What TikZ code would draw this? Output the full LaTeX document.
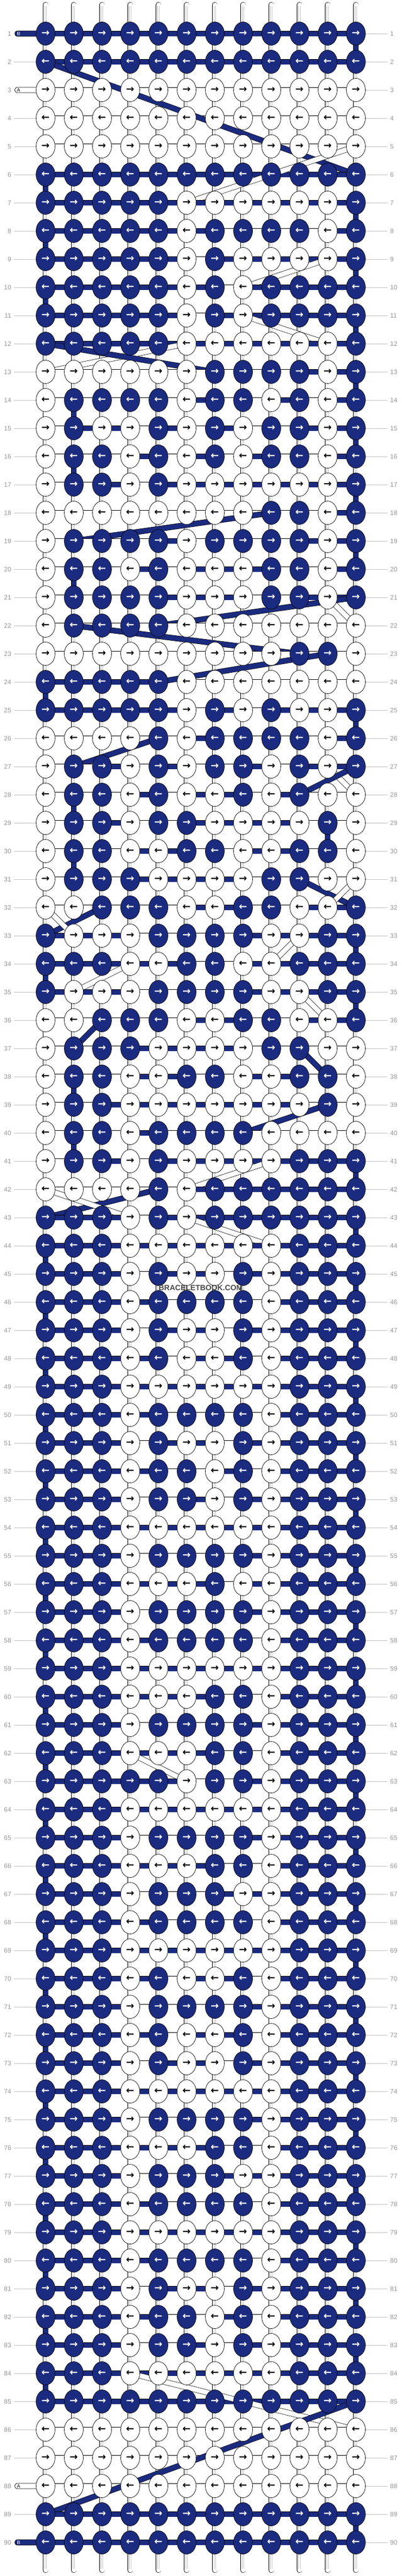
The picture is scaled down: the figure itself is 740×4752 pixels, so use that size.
\documentclass[tikz,border=0pt]{standalone}
\usepackage{fontspec}
\setmainfont{Liberation Sans}
\newfontfamily\arrowfont{DejaVu Sans}
\usepackage{xstring}
\usetikzlibrary{arrows.meta, positioning, shapes.geometric}

\definecolor{navy}{RGB}{27,43,127}
\definecolor{numgrey}{RGB}{150,150,150}
\definecolor{linegrey}{RGB}{192,192,192}

\pgfdeclarelayer{strings}
\pgfdeclarelayer{bands}
\pgfsetlayers{strings,bands,main}

% one entry per row, 1 = thread B (navy), 0 = thread A (white)
\def\knotrows{%
111111111111,111111111111,000000000000,000000000000,000000000000,%
111111111111,111110000001,111110111101,111110100001,111110101111,%
111110101111,111110000001,000000111101,011110110101,010010101101,%
011010101101,011010000001,000000001101,011110111101,011010001101,%
011110001101,011110000000,000000000110,111110000000,111110101001,%
000010111101,011010110101,011010010100,011011000010,011001100110,%
011100001100,001110011001,100011110011,111001100111,100011110011,%
001110011001,011100001100,011001100110,011000000010,011011110000,%
011010000111,000010111111,111010111111,111000000111,111010010111,%
111011110111,111010010111,111010010111,111000000111,111011110111,%
111010010111,111011010111,111011010111,111000000111,111011110111,%
111000100111,111011110111,111011110111,111000000111,111000110111,%
111011110111,111000110111,111110110111,111000000111,111011110111,%
111000110111,111011100111,111011110111,111000000111,111010010111,%
111011110111,111010010111,111010010111,111000000111,111011110111,%
111000110111,111011100111,111011110111,111000000111,111011110111,%
111010010111,111011010111,111011010111,111000000111,111111111111,%
000000000000,000000000000,000000000000,111111111111,111111111111}

\begin{document}
\begin{tikzpicture}[x=1pt, y=-1pt,
    knot/.style = {ellipse, draw, line width=0.7pt, minimum width=35pt,
        minimum height=43pt, inner sep=0pt,
        font=\arrowfont\bfseries\fontsize{18}{18}\selectfont},
    knot b/.style = {knot, fill=navy, text=white},
    knot a/.style = {knot, fill=white, text=black},
    thread b/.style = {draw=black, line width=0.7pt, double=navy, double distance=9pt},
    thread a/.style = {draw=black, line width=0.7pt, double=white, double distance=9pt},
    string/.style = {draw=black, line width=0.7pt, double=white,
        double distance=9pt, line cap=round},
    string core/.style = {draw=black!22, line width=0.6pt, double=white, double distance=2.2pt},
    pill/.style = {draw, line width=0.7pt, rounded corners=4.5pt, minimum height=10pt,
        text width=38pt, inner xsep=4pt, inner ysep=0pt, align=left,
        font=\fontsize{9}{9}\selectfont},
    pill b/.style = {pill, fill=navy, text=white},
    pill a/.style = {pill, fill=white, text=black},
    rownum/.style = {text=numgrey, inner sep=0pt, font=\fontsize{12}{12}\selectfont},
    rowline/.style = {draw=linegrey, line width=0.8pt}
  ]

\useasboundingbox (0,0) rectangle (740,4752);

% Knots
\foreach \pat [count=\r] in \knotrows {
  \pgfmathtruncatemacro{\y}{10+52*\r}
  \ifodd\r\relax \def\arr{→}\else \def\arr{←}\fi
  \foreach \c in {1,...,12} {
    \pgfmathtruncatemacro{\x}{32+52*\c}
    \StrChar{\pat}{\c}[\bit]
    \ifnum\bit=1
      \node[knot b] (k-\r-\c) at (\x,\y) {\arr};
    \else
      \node[knot a] (k-\r-\c) at (\x,\y) {\arr};
    \fi
  }
}

% Base strings
\begin{pgfonlayer}{strings}
  \foreach \c in {1,...,12} {
    \pgfmathtruncatemacro{\x}{32+52*\c}
    \coordinate (top-\c) at (\x,9);
    \coordinate (bot-\c) at (\x,4741);
    \draw[string] (top-\c) -- (bot-\c);
    \draw[string core] ([yshift=-2pt]top-\c) -- ([yshift=2pt]bot-\c);
  }
\end{pgfonlayer}

% Row numbers
\begin{pgfonlayer}{strings}
  \foreach \r in {1,...,90} {
    \pgfmathtruncatemacro{\y}{10+52*\r}
    \node[rownum, anchor=east] (ln-\r) at (21,\y) {\r};
    \node[rownum, anchor=west] (rn-\r) at (719,\y) {\r};
    \draw[rowline] (k-\r-12.east) -- ([xshift=-5pt]rn-\r.west);
    \pgfmathtruncatemacro{\haspill}{(\r==1)||(\r==3)||(\r==88)||(\r==90)}
    \ifnum\haspill=0
      \draw[rowline] ([xshift=5pt]ln-\r.east) -- (k-\r-1.west);
    \fi
  }
\end{pgfonlayer}

% Threads A and B
\begin{pgfonlayer}{bands}
  \node[pill b, anchor=west] (pill-b-in) at (27,62) {B};
  \node[pill a, anchor=west] (pill-a-in) at (27,166) {A};
  \node[pill a, anchor=west] (pill-a-out) at (27,4586) {A};
  \node[pill b, anchor=west] (pill-b-out) at (27,4690) {B};
  \gdef\lastA{pill-a-in.east}
  \gdef\lastB{pill-b-in.east}
  \foreach \pat [count=\r] in \knotrows {
    \foreach \i in {1,...,12} {
      \ifodd\r\relax \edef\c{\i}\else \pgfmathtruncatemacro{\c}{13-\i}\fi
      \StrChar{\pat}{\c}[\bit]
      \ifnum\bit=1
        \draw[thread b] (\lastB) -- (k-\r-\c.center);
        \xdef\lastB{k-\r-\c.center}
      \else
        \draw[thread a] (\lastA) -- (k-\r-\c.center);
        \xdef\lastA{k-\r-\c.center}
      \fi
    }
  }
  \draw[thread a] (\lastA) -- (pill-a-out.east);
  \draw[thread b] (\lastB) -- (pill-b-out.east);
\end{pgfonlayer}

\node[text=black!72, font=\bfseries\fontsize{14}{14}\selectfont] (brand) at (370,2376) {BRACELETBOOK.COM};

\end{tikzpicture}
\end{document}
